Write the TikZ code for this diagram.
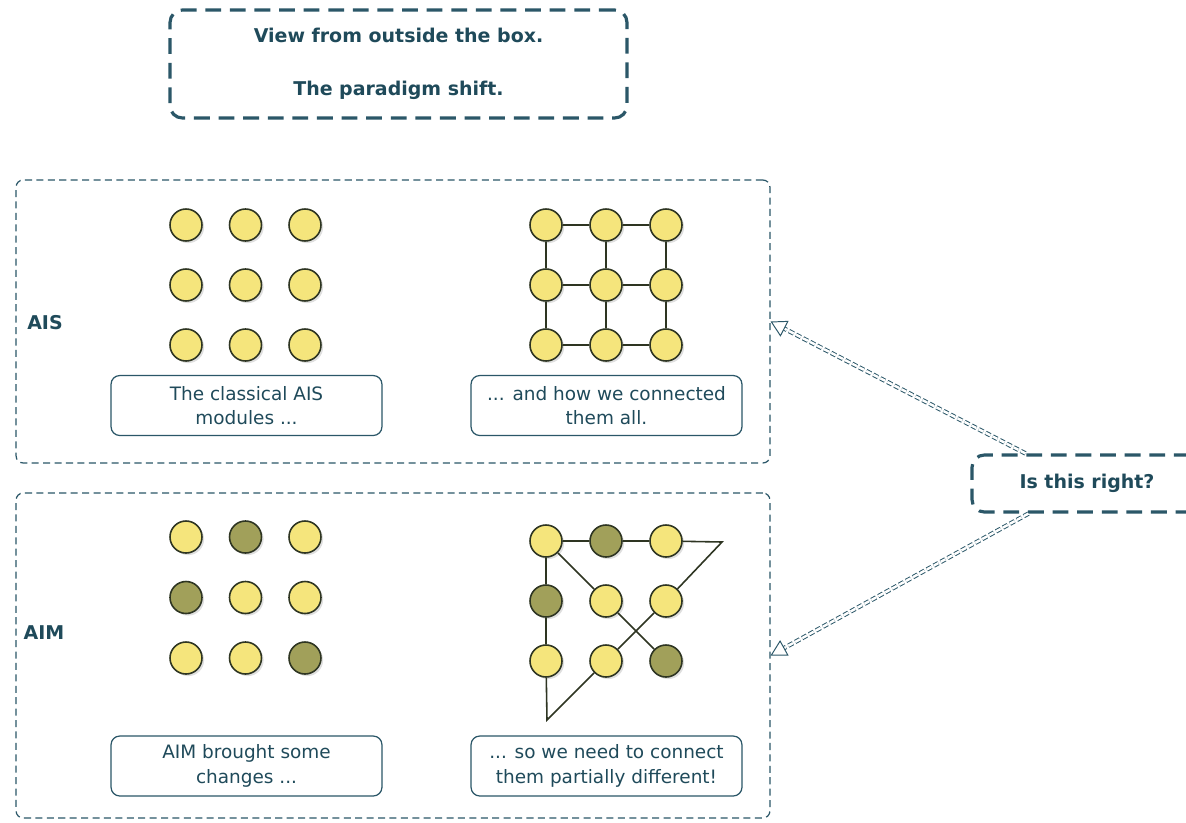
\documentclass[tikz,border=0pt]{standalone}
\usepackage{fontspec}
\setmainfont{DejaVu Sans}
\usetikzlibrary{arrows.meta,shadows}
\definecolor{framecol}{HTML}{2B5768}
\definecolor{txt}{HTML}{1F4A5A}
\definecolor{dotline}{HTML}{2E3522}
\definecolor{dotyellow}{HTML}{F5E57C}
\definecolor{dotolive}{HTML}{A1A05A}
\tikzset{
module/.style={circle,draw=dotline,line width=.9pt,fill=dotyellow,minimum size=.64cm,inner sep=0pt,drop shadow={opacity=.25,shadow xshift=1.2pt,shadow yshift=-1.2pt}},
changed/.style={module,fill=dotolive},
caption/.style={draw=framecol,line width=.7pt,rounded corners=5pt,minimum width=5.42cm,minimum height=1.2cm,align=center,text=txt,font=\fontsize{10.5}{14}\selectfont,inner sep=1pt},
frame/.style={draw=framecol,dash pattern=on 4pt off 2.5pt,rounded corners=4pt,line width=.7pt,minimum width=15.08cm},
bigbox/.style={draw=framecol,line width=1.8pt,dash pattern=on 9pt off 5pt,rounded corners=7pt,align=center,text=txt,font=\bfseries\fontsize{10.8}{14}\selectfont},
link/.style={draw=dotline,line width=.9pt},
ask/.style={framecol,double=white,double distance=1.4pt,line width=.55pt,dash pattern=on 3pt off 1.5pt,-{Triangle[open,length=9pt,width=10pt]}}
}
\begin{document}
\begin{tikzpicture}[x=0.02cm,y=-0.02cm]
\clip (0,0) rectangle (1186,822);
\fill[white] (0,0) rectangle (1186,822);
\node[bigbox,minimum width=9.14cm,minimum height=2.16cm] (title) at (398.5,64) {View from outside the box.\\[16pt]The paradigm shift.};
\node[frame,minimum height=5.66cm] (aisframe) at (393,321.5) {};
\node[frame,minimum height=6.5cm] (aimframe) at (393,655.5) {};
\node[text=txt,font=\bfseries\fontsize{10.8}{13}\selectfont] (ais) at (45,323) {AIS};
\node[text=txt,font=\bfseries\fontsize{10.8}{13}\selectfont] (aim) at (44,633) {AIM};
\foreach \r in {1,2,3}
\foreach \c in {1,2,3}{
\node[module] (aisl-\r\c) at ({186+59.5*(\c-1)},{225+60*(\r-1)}) {};
\node[module] (aisr-\r\c) at ({546+60*(\c-1)},{225+60*(\r-1)}) {};
}
\foreach \r/\c/\k in {1/1/module,1/2/changed,1/3/module,2/1/changed,2/2/module,2/3/module,3/1/module,3/2/module,3/3/changed}{
\node[\k] (aiml-\r\c) at ({186+59.5*(\c-1)},{537+60.5*(\r-1)}) {};
\node[\k] (aimr-\r\c) at ({546+60*(\c-1)},{541+60*(\r-1)}) {};
}
\draw[link](aisr-11)--(aisr-12)--(aisr-13)(aisr-21)--(aisr-22)--(aisr-23)(aisr-31)--(aisr-32)--(aisr-33);
\draw[link](aisr-11)--(aisr-21)--(aisr-31)(aisr-12)--(aisr-22)--(aisr-32)(aisr-13)--(aisr-23)--(aisr-33);
\coordinate (tip) at (722,542);
\coordinate (foot) at (547,720);
\draw[link](aimr-11)--(aimr-12)--(aimr-13)--(tip)--(aimr-23)--(aimr-32)--(foot)--(aimr-31)--(aimr-21)--(aimr-11);
\draw[link](aimr-11)--(aimr-22)--(aimr-33);
\node[caption] (capl1) at (246.5,405.5) {The classical AIS\\modules ...};
\node[caption] (capr1) at (606.5,405.5) {... and how we connected\\them all.};
\node[caption] (capl2) at (246.5,766) {AIM brought some\\changes ...};
\node[caption] (capr2) at (606.5,766) {... so we need to connect\\them partially different!};
\node[bigbox,minimum width=4.6cm,minimum height=1.14cm] (question) at (1087,483.5) {Is this right?};
\draw[ask] ([xshift=1.1cm]question.north west) -- (aisframe.east);
\draw[ask] ([xshift=1.16cm]question.south west) -- (aimframe.east);
\end{tikzpicture}
\end{document}
